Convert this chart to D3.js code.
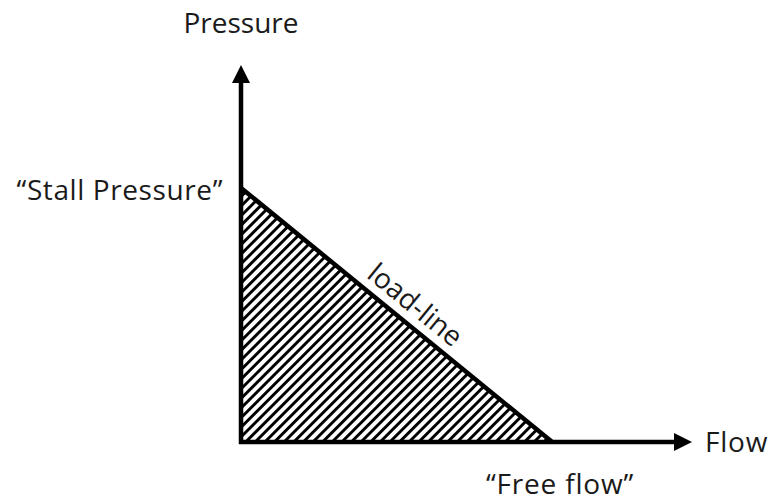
<!DOCTYPE html>
<html>
<head>
<meta charset="utf-8">
<script src="https://cdn.jsdelivr.net/npm/d3@7"></script>
<style>
  html, body { margin: 0; padding: 0; background: #fff; }
  svg text { font-family: "Open Sans", Lato, sans-serif; fill: #1a1a1a; }
</style>
</head>
<body>
<div id="chart"></div>
<script>
// Axis extents (arbitrary units) and the load-line end points
var axisMax = { flow: 10, pressure: 10 };
var loadLine = [
  { flow: 0, pressure: 6.74 },   // "Stall Pressure"
  { flow: 6.9, pressure: 0 }     // "Free flow"
];
var labels = {
  x: 'Flow',
  y: 'Pressure',
  stall: '\u201cStall Pressure\u201d',
  free: '\u201cFree flow\u201d',
  line: 'load-line'
};

(function() {
  var w = 772, h = 504;
  var svg = d3.select('#chart').append('svg').attr('width', w).attr('height', h);

  var x = d3.scaleLinear().domain([0, axisMax.flow]).range([241, 692]);
  var y = d3.scaleLinear().domain([0, axisMax.pressure]).range([442, 65]);

  // "/" hatching
  var step = 6.8;
  var defs = svg.append('defs');
  defs.append('pattern')
    .attr('id', 'hatch').attr('patternUnits', 'userSpaceOnUse')
    .attr('width', step).attr('height', step)
    .attr('patternTransform', 'rotate(45)')
    .append('line')
    .attr('x1', step / 2).attr('y1', 0).attr('x2', step / 2).attr('y2', step)
    .attr('stroke', '#000').attr('stroke-width', 2.9);

  // hatched area under the load-line
  var area = d3.area()
    .x(function(d) { return x(d.flow); })
    .y0(y(0))
    .y1(function(d) { return y(d.pressure); });
  svg.append('path').datum(loadLine)
    .attr('d', area)
    .attr('fill', 'url(#hatch)');

  // load-line
  var line = d3.line()
    .x(function(d) { return x(d.flow); })
    .y(function(d) { return y(d.pressure); });
  svg.append('path').datum(loadLine)
    .attr('d', line)
    .attr('fill', 'none').attr('stroke', '#000').attr('stroke-width', 4.5);

  // axes with arrow heads
  var head = 18, half = 9;
  svg.append('line')
    .attr('x1', x(0)).attr('x2', x(0))
    .attr('y1', y(0) + 2).attr('y2', y(axisMax.pressure) + head - 1)
    .attr('stroke', '#000').attr('stroke-width', 4.5);
  svg.append('path')
    .attr('d', 'M' + x(0) + ',' + y(axisMax.pressure) +
      'L' + (x(0) - half) + ',' + (y(axisMax.pressure) + head) +
      'L' + (x(0) + half) + ',' + (y(axisMax.pressure) + head) + 'Z')
    .attr('fill', '#000');

  svg.append('line')
    .attr('x1', x(0) - 2).attr('x2', x(axisMax.flow) - head + 1)
    .attr('y1', y(0)).attr('y2', y(0))
    .attr('stroke', '#000').attr('stroke-width', 4.5);
  svg.append('path')
    .attr('d', 'M' + x(axisMax.flow) + ',' + y(0) +
      'L' + (x(axisMax.flow) - head) + ',' + (y(0) - half) +
      'L' + (x(axisMax.flow) - head) + ',' + (y(0) + half) + 'Z')
    .attr('fill', '#000');

  // labels
  var fs = '28px';
  svg.append('text').attr('x', x(0)).attr('y', 33)
    .attr('text-anchor', 'middle').attr('font-size', fs).text(labels.y);
  svg.append('text').attr('x', 223).attr('y', 200)
    .attr('text-anchor', 'end').attr('font-size', fs)
    .attr('letter-spacing', '0.6px').text(labels.stall);
  svg.append('text').attr('x', 705).attr('y', y(0) + 10)
    .attr('text-anchor', 'start').attr('font-size', fs)
    .attr('letter-spacing', '0.8px').text(labels.x);
  svg.append('text').attr('x', 560).attr('y', 494)
    .attr('text-anchor', 'middle').attr('font-size', fs)
    .attr('letter-spacing', '0.8px').text(labels.free);

  // rotated label along the load-line
  var p0 = [x(loadLine[0].flow), y(loadLine[0].pressure)];
  var p1 = [x(loadLine[1].flow), y(loadLine[1].pressure)];
  var ang = Math.atan2(p1[1] - p0[1], p1[0] - p0[0]) * 180 / Math.PI;
  var mx = p0[0] + (p1[0] - p0[0]) * 0.52, my = p0[1] + (p1[1] - p0[1]) * 0.52;
  svg.append('text')
    .attr('transform', 'translate(' + mx + ',' + my + ') rotate(' + ang + ')')
    .attr('y', -10)
    .attr('text-anchor', 'middle').attr('font-size', fs).text(labels.line);
})();
</script>
</body>
</html>
